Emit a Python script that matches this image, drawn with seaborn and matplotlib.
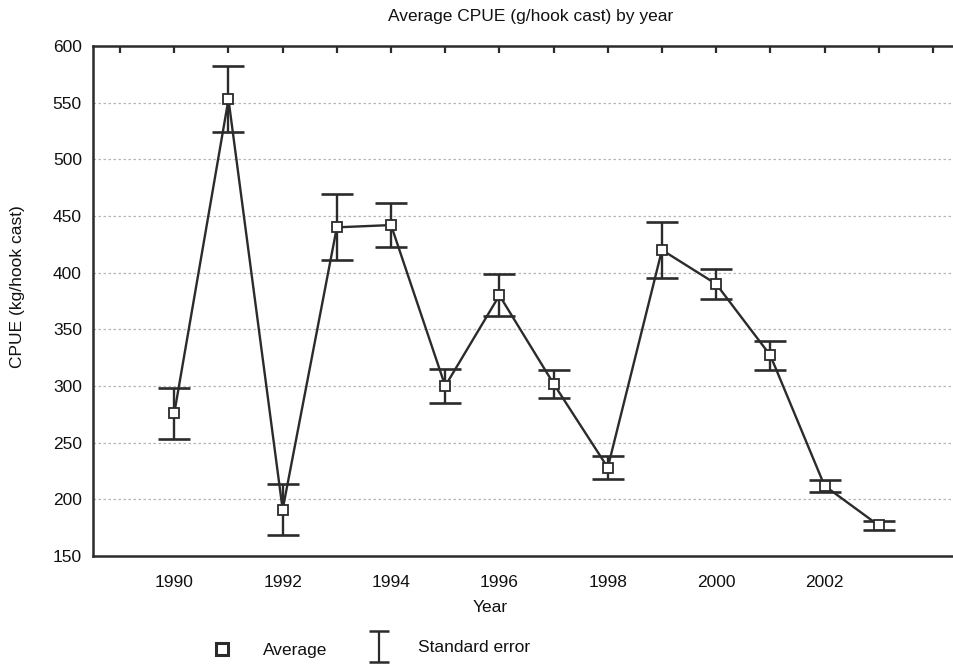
import numpy as np
import pandas as pd
import matplotlib
matplotlib.use("Agg")
import matplotlib.pyplot as plt
import seaborn as sns

# Mean CPUE per year and its standard error
years = [1990, 1991, 1992, 1993, 1994, 1995, 1996, 1997, 1998, 1999, 2000, 2001, 2002, 2003]
cpue_mean = [276, 553, 191, 440, 442, 300, 380, 302, 228, 420, 390, 327, 212, 177]
cpue_se = [22.5, 29, 22.5, 29, 19.5, 15, 18.5, 12.5, 10, 24.5, 13, 13, 5.5, 4.2]
x_tick_labels = ["1990", "1992", "1994", "1996", "1998", "2000", "2002"]

df = pd.DataFrame({"Year": years, "CPUE": cpue_mean, "SE": cpue_se})

sns.set_theme(style="white")
plt.rcParams["font.family"] = ["Liberation Sans", "DejaVu Sans"]

ink = "#2b2b2b"
W, H = 954, 666
fig = plt.figure(figsize=(W / 100, H / 100), dpi=100)
ax = fig.add_axes([93 / W, 110 / H, 867 / W, 510 / H])

# standard-error bars
ax.errorbar(df["Year"], df["CPUE"], yerr=df["SE"], fmt="none",
            ecolor=ink, elinewidth=1.7, capsize=11.5, capthick=1.9, zorder=3)
# mean line with square markers
sns.lineplot(data=df, x="Year", y="CPUE", ax=ax, color=ink, linewidth=1.7,
             marker="s", markersize=7, markerfacecolor="white",
             markeredgecolor=ink, markeredgewidth=1.3, zorder=4)

ax.set_xlim(1988.5, 2004.5)
ax.set_ylim(150, 600)
ax.set_xticks(np.arange(1989, 2005))
ax.set_xticklabels(["" if str(y) not in x_tick_labels else str(y) for y in range(1989, 2005)])
ax.set_yticks(np.arange(150, 601, 50))

ax.tick_params(axis="both", which="major", direction="in", length=5, width=1.6,
               colors=ink, labelcolor="#111111", labelsize=12.5,
               top=True, right=True, pad=8)
ax.tick_params(axis="x", pad=14)

for s in ax.spines.values():
    s.set_color(ink)
    s.set_linewidth(1.8)

for yv in range(200, 600, 50):
    ax.axhline(yv, color="#b5b5b5", linestyle=(0, (2, 2)), linewidth=0.9, zorder=1)

ax.set_xlabel("")
ax.set_ylabel("")
fig.text(490 / W, 1 - 607 / H, "Year", ha="center", va="center", fontsize=12.5, color="#111111")
fig.text(18 / W, 1 - 287 / H, "CPUE (kg/hook cast)", ha="center", va="center",
         rotation=90, fontsize=12.5, color="#111111")
fig.text(531 / W, 1 - 17 / H, "Average CPUE (g/hook cast) by year", ha="center",
         va="center", fontsize=12.5, color="#111111")

# legend row beneath the plot
lax = fig.add_axes([0, 0, 1, 1], facecolor="none")
lax.set_xlim(0, W)
lax.set_ylim(H, 0)
lax.axis("off")
lax.plot([222], [649], marker="s", markersize=9, markerfacecolor="white",
         markeredgecolor=ink, markeredgewidth=2.2, linestyle="none")
lax.errorbar([379], [646], yerr=[15.5], fmt="none", ecolor=ink, elinewidth=1.6,
             capsize=7.5, capthick=1.8)
lax.text(263, 650, "Average", ha="left", va="center", fontsize=12.5, color="#111111")
lax.text(418, 648, "Standard error", ha="left", va="center", fontsize=12.5, color="#111111")

fig.savefig("out.png", dpi=100)
